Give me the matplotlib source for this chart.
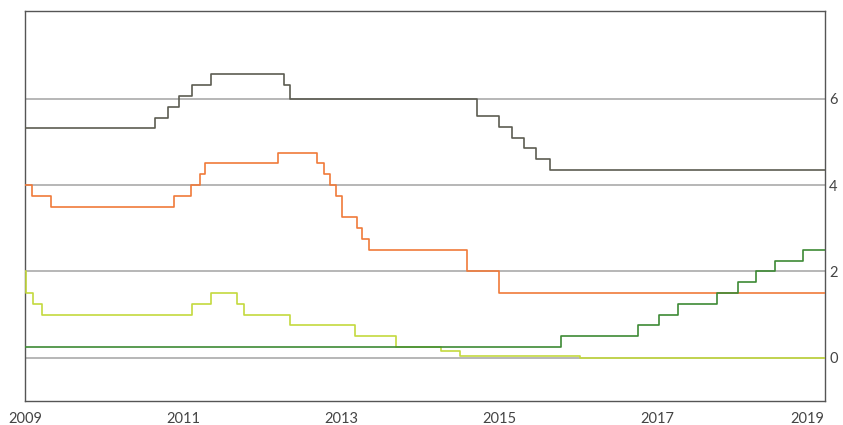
import matplotlib.pyplot as plt
from matplotlib.transforms import ScaledTranslation

# step series: date of each change (decimal year) and the new rate
END = 2019.127

gray_dates = [2009.0, 2010.645, 2010.81, 2010.95, 2011.12, 2011.35, 2012.28, 2012.35,
              2014.72, 2015.0, 2015.17, 2015.32, 2015.47, 2015.64]
gray_rates = [5.31, 5.56, 5.81, 6.06, 6.31, 6.56, 6.31, 6.0,
              5.6, 5.35, 5.1, 4.85, 4.6, 4.35]

orange_dates = [2009.0, 2009.09, 2009.33, 2010.89, 2011.1, 2011.21, 2011.28, 2012.2,
                2012.7, 2012.78, 2012.86, 2012.94, 2013.01, 2013.2, 2013.27, 2013.35,
                2014.6, 2015.0]
orange_rates = [4.0, 3.75, 3.5, 3.75, 4.0, 4.25, 4.5, 4.75,
                4.5, 4.25, 4.0, 3.75, 3.25, 3.0, 2.75, 2.5,
                2.0, 1.5]

yellow_dates = [2009.0, 2009.01, 2009.1, 2009.21, 2011.11, 2011.35, 2011.68, 2011.77,
                2012.35, 2013.18, 2013.7, 2014.26, 2014.51, 2016.02]
yellow_rates = [2.0, 1.5, 1.25, 1.0, 1.25, 1.5, 1.25, 1.0,
                0.75, 0.5, 0.25, 0.15, 0.05, 0.0]

green_dates = [2009.0, 2015.78, 2016.76, 2017.02, 2017.26, 2017.76, 2018.03, 2018.25,
               2018.49, 2018.85]
green_rates = [0.25, 0.5, 0.75, 1.0, 1.25, 1.5, 1.75, 2.0, 2.25, 2.5]

series = [
    (gray_dates, gray_rates, '#5c5c52'),
    (orange_dates, orange_rates, '#f07a3a'),
    (yellow_dates, yellow_rates, '#c4d93e'),
    (green_dates, green_rates, '#3d8a35'),
]

plt.rcParams['font.family'] = ['Lato', 'DejaVu Sans']

fig = plt.figure(figsize=(8.43, 4.25), dpi=100)
ax = fig.add_axes([25 / 843, 1 - 401 / 425, 800 / 843, 390 / 425])

for d, r, c in series:
    x = list(d) + [END]
    y = list(r) + [r[-1]]
    ax.step(x, y, where='post', color=c, lw=1.2, zorder=3)

ax.set_xlim(2009, END)
ax.set_ylim(-1, 8.03)
ax.set_yticks([0, 2, 4, 6])
ax.set_xticks([2009, 2011, 2013, 2015, 2017, 2019])
ax.grid(axis='y', color='#aaaaaa', lw=1.2, zorder=1)
ax.yaxis.tick_right()
ax.tick_params(length=0, labelsize=10.5, colors='#444444')
ax.tick_params(axis='y', pad=3)
ax.tick_params(axis='x', pad=8)
for s in ax.spines.values():
    s.set_color('#555555')
    s.set_linewidth(1.0)

# keep the last year label inside the figure, as in the original
last = ax.get_xticklabels()[-1]
last.set_transform(last.get_transform() + ScaledTranslation(-0.08, 0, fig.dpi_scale_trans))

fig.savefig('out.png', dpi=100)
